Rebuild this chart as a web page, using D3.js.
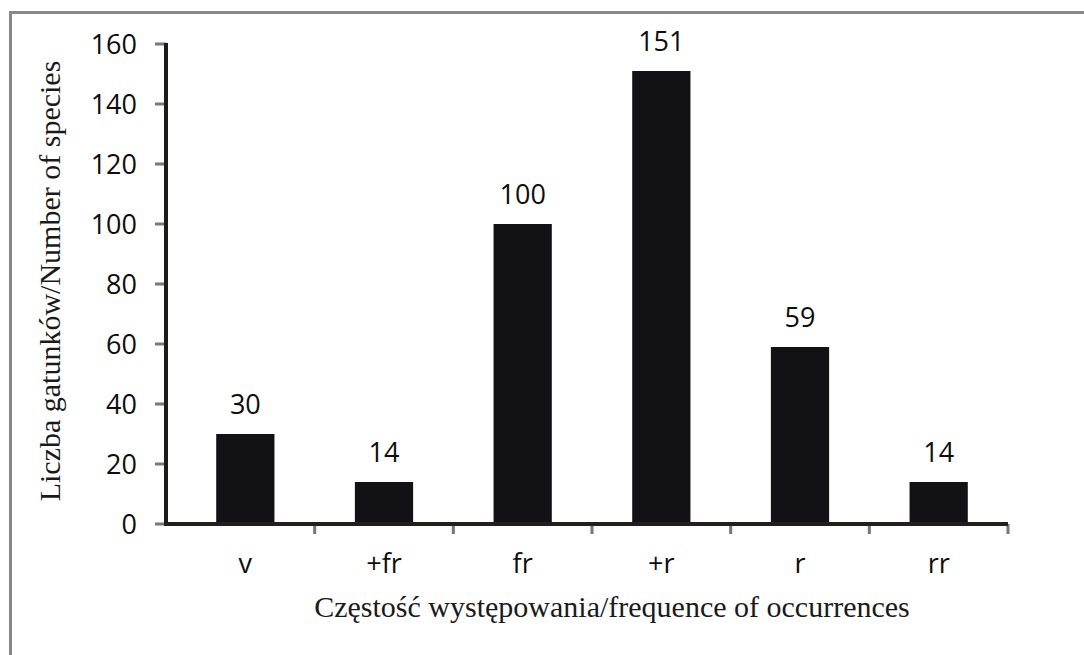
<!DOCTYPE html>
<html>
<head>
<meta charset="utf-8">
<script src="https://cdn.jsdelivr.net/npm/d3@7"></script>
<style>
  body { margin: 0; background: #fff; }
  .tick-label { font-family: 'Open Sans', sans-serif; font-size: 27px; fill: #0d0d0d; }
  .axis-title { font-family: 'Liberation Serif', 'Times New Roman', serif; font-size: 30px; fill: #1a1a1a; }
</style>
</head>
<body>
<svg id="chart"></svg>
<script>
// data
const categories = ['v', '+fr', 'fr', '+r', 'r', 'rr'];
const counts = [30, 14, 100, 151, 59, 14];
const yTicks = [0, 20, 40, 60, 80, 100, 120, 140, 160];
const xTitle = 'Częstość występowania/frequence of occurrences';
const yTitle = 'Liczba gatunków/Number of species';

const width = 1084, height = 655;
const svg = d3.select('#chart')
    .attr('width', width)
    .attr('height', height);

// grey frame round the figure (runs off the right and bottom)
svg.append('rect')
    .attr('x', 10.5).attr('y', 12.5)
    .attr('width', 1100).attr('height', 700)
    .attr('fill', 'none')
    .attr('stroke', '#888')
    .attr('stroke-width', 3);

const axisX = 166; // where the y axis sits
const x = d3.scaleBand()
    .domain(categories)
    .range([176, 1008])
    .paddingInner(0.58)
    .paddingOuter(0.29);

const y = d3.scaleLinear()
    .domain([0, 160])
    .range([524, 44]);

const g = svg.append('g');

// bars
g.selectAll('rect.bar')
    .data(counts)
    .enter()
    .append('rect')
    .attr('class', 'bar')
    .attr('x', (d, i) => x(categories[i]))
    .attr('y', d => y(d))
    .attr('width', x.bandwidth())
    .attr('height', d => y(0) - y(d))
    .attr('fill', '#111116');

// value labels
g.selectAll('text.value')
    .data(counts)
    .enter()
    .append('text')
    .attr('class', 'tick-label')
    .attr('x', (d, i) => x(categories[i]) + x.bandwidth() / 2)
    .attr('y', d => y(d) - 20)
    .attr('text-anchor', 'middle')
    .text(d => d);

// y axis ticks + labels
g.selectAll('line.ytick')
    .data(yTicks)
    .enter()
    .append('line')
    .attr('x1', axisX - 11).attr('x2', axisX)
    .attr('y1', d => y(d)).attr('y2', d => y(d))
    .attr('stroke', '#777')
    .attr('stroke-width', 3);

g.selectAll('text.ylab')
    .data(yTicks)
    .enter()
    .append('text')
    .attr('class', 'tick-label')
    .attr('x', 137)
    .attr('y', d => y(d))
    .attr('dy', '0.36em')
    .attr('text-anchor', 'end')
    .text(d => d);

// x axis ticks at band edges
const edges = categories.map(c => x(c) + x.bandwidth() + x.step() * 0.29);
g.selectAll('line.xtick')
    .data(edges)
    .enter()
    .append('line')
    .attr('x1', d => d).attr('x2', d => d)
    .attr('y1', y(0)).attr('y2', y(0) + 10)
    .attr('stroke', '#777')
    .attr('stroke-width', 3);

// axis lines
g.append('line')
    .attr('x1', axisX).attr('x2', axisX)
    .attr('y1', y(160) - 1).attr('y2', y(0) + 2)
    .attr('stroke', '#1e1b19')
    .attr('stroke-width', 4);

g.append('line')
    .attr('x1', axisX - 2).attr('x2', x.range()[1])
    .attr('y1', y(0)).attr('y2', y(0))
    .attr('stroke', '#231f1c')
    .attr('stroke-width', 4);

// category labels
g.selectAll('text.xlab')
    .data(categories)
    .enter()
    .append('text')
    .attr('class', 'tick-label')
    .attr('x', d => x(d) + x.bandwidth() / 2)
    .attr('y', 573)
    .attr('text-anchor', 'middle')
    .text(d => d);

// axis titles
svg.append('text')
    .attr('class', 'axis-title')
    .attr('x', 612)
    .attr('y', 617)
    .attr('text-anchor', 'middle')
    .text(xTitle);

svg.append('text')
    .attr('class', 'axis-title')
    .attr('transform', 'translate(60,281) rotate(-90)')
    .attr('text-anchor', 'middle')
    .text(yTitle);
</script>
</body>
</html>
